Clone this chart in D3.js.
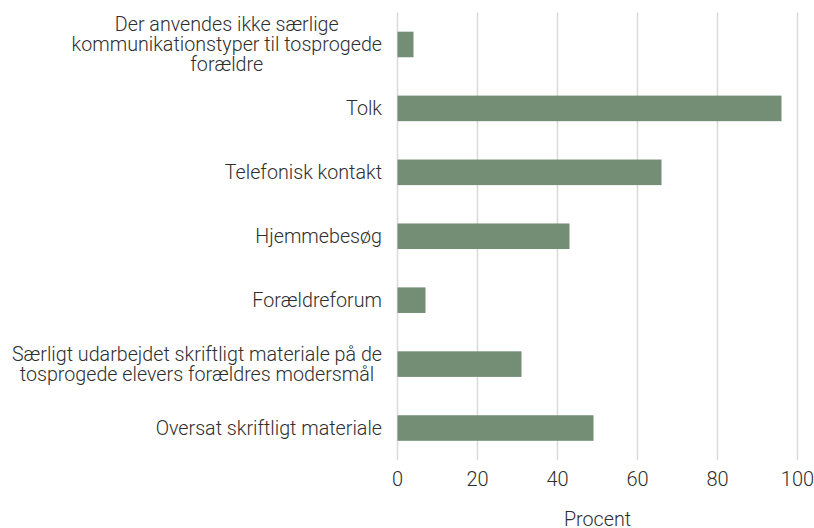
<!DOCTYPE html>
<html>
<head>
<meta charset="utf-8">
<script src="https://cdn.jsdelivr.net/npm/d3@7"></script>
<style>
  body { margin: 0; background: #fff; }
  text { font-family: Roboto, "Noto Sans", sans-serif; font-weight: 300; fill: #2e2e2e; }
</style>
</head>
<body>
<svg width="814" height="528"></svg>
<script>
// Categories (top to bottom) and their percentages
var categories = [
    "Der anvendes ikke særlige\nkommunikationstyper til tosprogede\nforældre",
    "Tolk",
    "Telefonisk kontakt",
    "Hjemmebesøg",
    "Forældreforum",
    "Særligt udarbejdet skriftligt materiale på de\ntosprogede elevers forældres modersmål",
    "Oversat skriftligt materiale"
];
var values = [4, 96, 66, 43, 7, 31, 49];
var ticks = [0, 20, 40, 60, 80, 100];
var axisTitle = "Procent";

var svg = d3.select("svg"),
    fontSize = 19.7,
    lineHeight = 20;

var x = d3.scaleLinear()
    .domain([0, 100])
    .range([397.5, 797.5]);

var y = d3.scaleBand()
    .domain(categories)
    .range([12.5, 460])
    .paddingInner(0.6)
    .paddingOuter(0.3);

// Gridlines
svg.append("g")
    .selectAll("line")
    .data(ticks)
    .enter().append("line")
    .attr("x1", function(d) { return x(d); })
    .attr("x2", function(d) { return x(d); })
    .attr("y1", 12.5)
    .attr("y2", 460)
    .attr("stroke", "#d9d9d9")
    .attr("stroke-width", 1.5);

// Bars
svg.append("g")
    .selectAll("rect")
    .data(categories)
    .enter().append("rect")
    .attr("x", x(0))
    .attr("y", function(d) { return y(d); })
    .attr("width", function(d, i) { return x(values[i]) - x(0); })
    .attr("height", y.bandwidth())
    .attr("fill", "#738e74");

// Tick labels
svg.append("g")
    .selectAll("text")
    .data(ticks)
    .enter().append("text")
    .attr("x", function(d) { return x(d); })
    .attr("y", 486)
    .attr("text-anchor", "middle")
    .style("font-size", "20px")
    .text(function(d) { return d; });

// Axis title
svg.append("text")
    .attr("x", (x(0) + x(100)) / 2)
    .attr("y", 526)
    .attr("text-anchor", "middle")
    .style("font-size", "19.7px")
    .text(axisTitle);

// Category labels: lines centered within a block that is right aligned
var labelRight = 382;
var label = svg.append("g")
    .selectAll("text")
    .data(categories)
    .enter().append("text")
    .attr("text-anchor", "middle")
    .style("font-size", fontSize + "px");

label.each(function(d) {
    var lines = d.split("\n"),
        cy = y(d) + y.bandwidth() / 2,
        t = d3.select(this);
    lines.forEach(function(line, i) {
        t.append("tspan")
            .attr("y", cy + (i - (lines.length - 1) / 2) * lineHeight)
            .attr("dy", "0.35em")
            .text(line);
    });
    var w = d3.max(t.selectAll("tspan").nodes(), function(n) { return n.getComputedTextLength(); });
    t.selectAll("tspan").attr("x", labelRight - w / 2);
});
</script>
</body>
</html>
